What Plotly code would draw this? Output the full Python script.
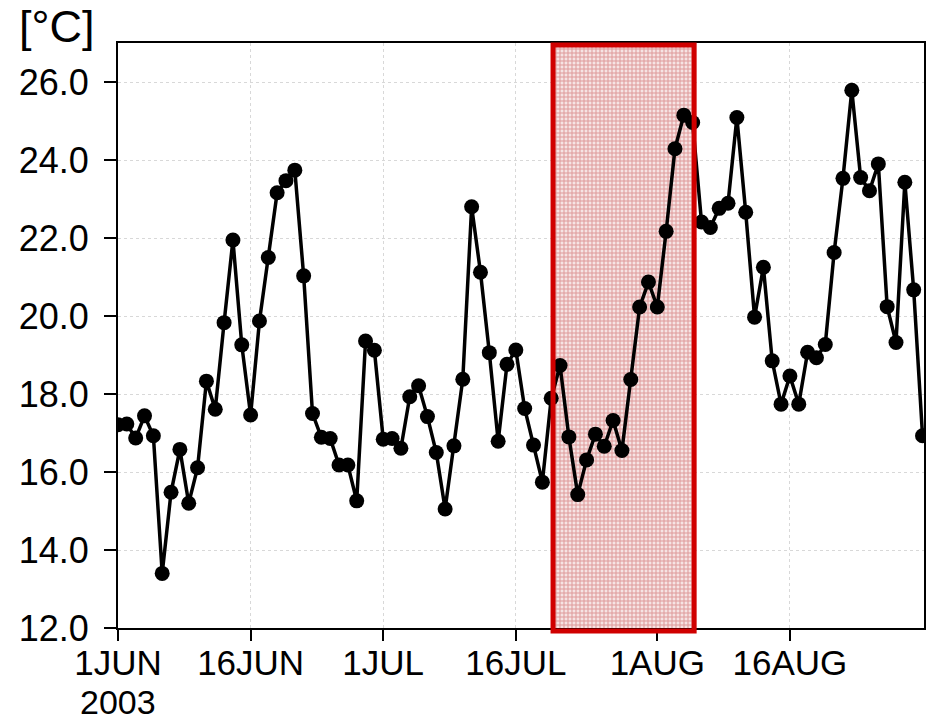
import pandas as pd
import plotly.graph_objects as go

# Daily mean temperature, 1 Jun - 31 Aug 2003 [degC]
start_date = "2003-06-01"
temps = [
    17.21, 17.23, 16.87, 17.44, 16.93, 13.40, 15.48, 16.58, 15.20, 16.11,
    18.33, 17.61, 19.83, 21.95, 19.26, 17.46, 19.87, 21.50, 23.16, 23.47,
    23.74, 21.03, 17.50, 16.89, 16.86, 16.18, 16.18, 15.26, 19.36, 19.12,
    16.84, 16.86, 16.61, 17.93, 18.21, 17.42, 16.50, 15.05, 16.67, 18.38,
    22.80, 21.12, 19.06, 16.79, 18.76, 19.13, 17.63, 16.69, 15.74, 17.89,
    18.73, 16.90, 15.42, 16.31, 16.97, 16.66, 17.32, 16.55, 18.37, 20.23,
    20.87, 20.23, 22.17, 24.29, 25.15, 24.96, 22.41, 22.27, 22.76, 22.89,
    25.09, 22.66, 19.97, 21.25, 18.85, 17.74, 18.46, 17.74, 19.07, 18.93,
    19.27, 21.63, 23.53, 25.79, 23.55, 23.21, 23.90, 20.24, 19.32, 23.43,
    20.67, 16.93,
]
dates = pd.date_range(start_date, periods=len(temps), freq="D")

tick_dates = ["2003-06-01", "2003-06-16", "2003-07-01", "2003-07-16", "2003-08-01", "2003-08-16"]
tick_labels = ["1JUN", "16JUN", "1JUL", "16JUL", "1AUG", "16AUG"]
y_ticks = [12, 14, 16, 18, 20, 22, 24, 26]

# Highlighted period
hl_start = "2003-07-20 05:00"
hl_end = "2003-08-05 04:00"

FONT = "Liberation Sans"

fig = go.Figure()

# Patterned fill of the highlighted period
fig.add_trace(go.Scatter(
    x=[hl_start, hl_end, hl_end, hl_start, hl_start],
    y=[11.9, 11.9, 26.95, 26.95, 11.9],
    mode="lines", line=dict(width=0), fill="toself",
    fillcolor="rgba(255,255,255,0)",
    fillpattern=dict(shape="+", size=4, solidity=0.45,
                     fgcolor="#c85050", bgcolor="#f6e4e4"),
    hoverinfo="skip", showlegend=False,
))

# Temperature series
fig.add_trace(go.Scatter(
    x=dates, y=temps, mode="lines+markers",
    line=dict(color="black", width=3.5),
    marker=dict(color="black", size=15),
    showlegend=False,
))

# Red frame of the highlighted period
fig.add_shape(type="rect", xref="x", yref="paper",
              x0=hl_start, x1=hl_end, y0=-0.005, y1=0.9966,
              line=dict(color="#d00000", width=5), fillcolor="rgba(0,0,0,0)",
              layer="above")

axis_common = dict(
    showline=True, linecolor="black", linewidth=2, mirror=True,
    ticks="outside", tickcolor="black", tickwidth=2,
    showgrid=True, gridcolor="#d8d8d8", griddash="dot", gridwidth=1,
    zeroline=False,
)

fig.update_xaxes(
    range=["2003-06-01", "2003-08-31 04:00"],
    tickmode="array", tickvals=tick_dates, ticktext=tick_labels,
    ticklen=11, ticklabelstandoff=-8,
    tickfont=dict(family=FONT, size=35, color="black"),
    **axis_common,
)
fig.update_yaxes(
    range=[12, 27.0],
    tickmode="array", tickvals=y_ticks, tickformat=".1f",
    ticklen=12, ticklabelstandoff=8,
    tickfont=dict(family=FONT, size=36, color="black"),
    **axis_common,
)

fig.add_annotation(text="2003", xref="x", yref="paper", x="2003-06-01", y=-0.1265,
                   xanchor="center", yanchor="middle", showarrow=False,
                   font=dict(family=FONT, size=34, color="black"))
fig.add_annotation(text="[°C]", xref="paper", yref="paper", x=-0.125, y=1.028,
                   xanchor="left", yanchor="middle", showarrow=False,
                   font=dict(family=FONT, size=45, color="black"))

fig.update_layout(
    width=929, height=721, autosize=False,
    margin=dict(l=118, r=3, t=43, b=93),
    paper_bgcolor="white", plot_bgcolor="white",
)

fig.write_html("out.html")
